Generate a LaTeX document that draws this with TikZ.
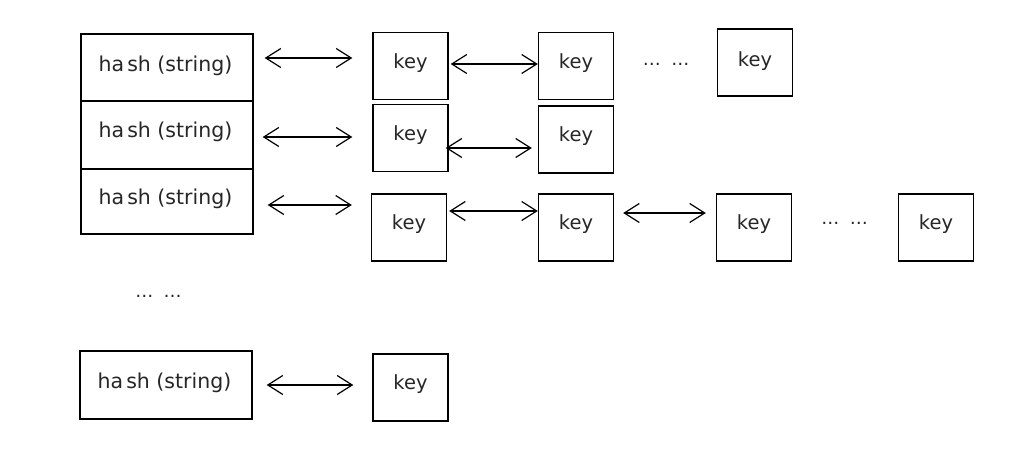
\documentclass[tikz,border=0pt]{standalone}
\usepackage{fontspec}
\setmainfont{DejaVu Sans}
\usetikzlibrary{arrows.meta}
\tikzset{
  hashbox/.style={draw, line width=1.4pt, minimum width=172pt, inner sep=0pt},
  keybox/.style={draw, line width=1.4pt, minimum width=75pt, minimum height=67pt, inner sep=0pt},
  hashtext/.style={font=\fontsize{20.5}{24}\selectfont, inner sep=0pt, xshift=-1.5pt, text=black!85},
  keytext/.style={font=\fontsize{19.5}{23}\selectfont, inner sep=0pt, text=black!85},
  dots/.style={font=\fontsize{18}{20}\selectfont, inner sep=0pt, text=black!85},
  dbl/.style={line width=1.2pt, {Straight Barb[length=15pt,width=19pt]}-{Straight Barb[length=15pt,width=19pt]}}
}
\newcommand{\hashlabel}{ha\kern3pt sh (string)}
\begin{document}
\begin{tikzpicture}[x=1pt,y=-1pt]
\useasboundingbox (0,0) rectangle (1024,449);
% hash column
\node[hashbox, minimum height=67pt, label={[hashtext,yshift=2pt]center:\hashlabel}] (h1) at (167,67.5) {};
\node[hashbox, minimum height=68pt, label={[hashtext,yshift=3.5pt]center:\hashlabel}] (h2) at (167,135) {};
\node[hashbox, minimum height=65pt, label={[hashtext,yshift=3pt]center:\hashlabel}] (h3) at (167,201.5) {};
\node[hashbox, minimum height=68pt, label={[hashtext,yshift=2.5pt]center:\hashlabel}] (h4) at (166,385) {};
% keys
\node[keybox, label={[keytext,yshift=3pt]center:key}] (k11) at (410.5,66) {};
\node[keybox, label={[keytext,yshift=3pt]center:key}] (k12) at (576,66) {};
\node[keybox, label={[keytext,yshift=1pt]center:key}] (k13) at (755,62.5) {};
\node[keybox, label={[keytext,yshift=3pt]center:key}] (k21) at (410.5,138) {};
\node[keybox, label={[keytext,yshift=3pt]center:key}] (k22) at (576,139.5) {};
\node[keybox, label={[keytext,yshift=3.5pt]center:key}] (k31) at (409,227.5) {};
\node[keybox, label={[keytext,yshift=3.5pt]center:key}] (k32) at (576,227.5) {};
\node[keybox, label={[keytext,yshift=3.5pt]center:key}] (k33) at (754,227.5) {};
\node[keybox, label={[keytext,yshift=3.5pt]center:key}] (k34) at (936,227.5) {};
\node[keybox, label={[keytext,yshift=3pt]center:key}] (k41) at (410.5,387.5) {};
% ellipses
\node[dots] (d1) at (666,64) {…\hspace{10.5pt}…};
\node[dots] (d2) at (844.5,223) {…\hspace{10.5pt}…};
\node[dots] (d3) at (158.5,296) {…\hspace{10.5pt}…};
% hash -> key arrows
\draw[dbl] ([xshift=11pt,yshift=9.5pt]h1.east) -- ([xshift=-20pt,yshift=8pt]k11.west);
\draw[dbl] ([xshift=9pt,yshift=-2pt]h2.east) -- ([xshift=-20pt,yshift=1pt]k21.west);
\draw[dbl] ([xshift=14pt,yshift=-3.5pt]h3.east) -- ([xshift=-19pt,yshift=22.5pt]k31.west);
\draw[dbl] ([xshift=14pt]h4.east) -- ([xshift=-19pt,yshift=2.5pt]k41.west);
% key -> key arrows
\draw[dbl] ([xshift=2pt,yshift=2pt]k11.east) -- ([yshift=2pt]k12.west);
\draw[dbl] ([xshift=-3pt,yshift=-10pt]k21.east) -- ([xshift=-6pt,yshift=-8.5pt]k22.west);
\draw[dbl] ([xshift=2pt,yshift=16.5pt]k31.east) -- ([yshift=16.5pt]k32.west);
\draw[dbl] ([xshift=9pt,yshift=14.5pt]k32.east) -- ([xshift=-10pt,yshift=14.5pt]k33.west);
\end{tikzpicture}
\end{document}
